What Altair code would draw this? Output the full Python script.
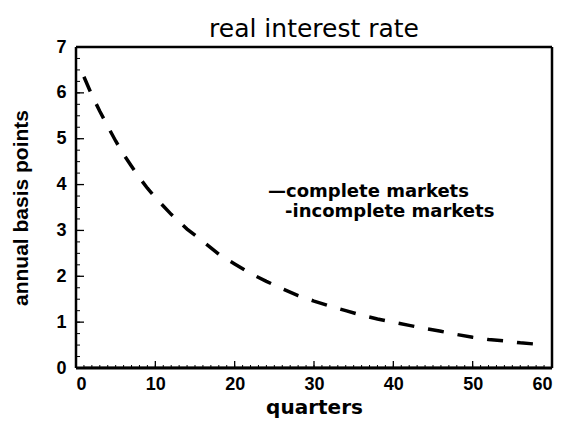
import altair as alt
import pandas as pd

quarters = [1, 2, 3, 4, 5, 6, 7, 8, 9, 10, 12, 14, 16, 18, 20, 22, 24, 26, 28, 30,
            32, 34, 36, 38, 40, 42, 44, 46, 48, 50, 52, 54, 56, 58, 59]
incomplete = [6.35, 5.95, 5.60, 5.27, 4.95, 4.66, 4.40, 4.15, 3.92, 3.72, 3.35, 3.03,
              2.76, 2.48, 2.27, 2.06, 1.89, 1.73, 1.58, 1.46, 1.35, 1.25, 1.15, 1.07,
              1.00, 0.93, 0.86, 0.80, 0.73, 0.67, 0.62, 0.59, 0.55, 0.52, 0.50]
complete = [0.0] * len(quarters)

x_major = [0, 10, 20, 30, 40, 50, 60]
x_minor = list(range(0, 61))
y_major = [0, 1, 2, 3, 4, 5, 6, 7]
y_minor = [i * 0.25 for i in range(0, 29)]

legend_lines = ["\u2014complete markets", "-incomplete markets"]

W, H = 476, 321
FONT = "Liberation Sans"
LFONT = "DejaVu Sans"

xs = alt.Scale(domain=[0, 60], nice=False, zero=False)
ys = alt.Scale(domain=[0, 7], nice=False)

df = pd.DataFrame({"q": quarters, "inc": incomplete, "comp": complete})

base = alt.Chart(df)

comp_line = base.mark_line(color="black", strokeWidth=2.5, clip=True).encode(
    x=alt.X("q:Q", scale=xs,
            axis=alt.Axis(values=x_major, title="quarters", grid=False, ticks=False,
                          domain=False, labelFont=FONT, labelFontSize=18,
                          labelFontWeight="bold", labelColor="black", labelPadding=7,
                          titleFont=LFONT, titleFontSize=20, titleFontWeight="bold",
                          titleColor="black", titlePadding=4)),
    y=alt.Y("comp:Q", scale=ys,
            axis=alt.Axis(values=y_major, title="annual basis points", grid=False,
                          ticks=False, domain=False, labelFont=FONT, labelFontSize=18,
                          labelFontWeight="bold", labelColor="black", labelPadding=10,
                          titleFont=FONT, titleFontSize=21, titleFontWeight="bold",
                          titleColor="black", titlePadding=24)),
)

inc_line = base.mark_line(color="black", strokeWidth=3.5, strokeDash=[16, 14],
                          strokeCap="butt").encode(
    x=alt.X("q:Q", scale=xs), y=alt.Y("inc:Q", scale=ys))

xminor_df = pd.DataFrame({"t": x_minor})
xmajor_df = pd.DataFrame({"t": x_major})
yminor_df = pd.DataFrame({"t": y_minor})
ymajor_df = pd.DataFrame({"t": y_major})

xminor = alt.Chart(xminor_df).mark_rule(color="black", strokeWidth=1).encode(
    x=alt.X("t:Q", scale=xs), y=alt.value(H), y2=alt.value(H - 3))
xmajor = alt.Chart(xmajor_df).mark_rule(color="black", strokeWidth=1.3).encode(
    x=alt.X("t:Q", scale=xs), y=alt.value(H), y2=alt.value(H - 7))
yminor = alt.Chart(yminor_df).mark_rule(color="black", strokeWidth=1).encode(
    y=alt.Y("t:Q", scale=ys), x=alt.value(0), x2=alt.value(4))
ymajor = alt.Chart(ymajor_df).mark_rule(color="black", strokeWidth=1.3).encode(
    y=alt.Y("t:Q", scale=ys), x=alt.value(0), x2=alt.value(8))

one = pd.DataFrame({"a": [0]})
frame_top = alt.Chart(one).mark_rule(color="black", strokeWidth=2.5).encode(
    x=alt.value(0), x2=alt.value(W), y=alt.value(0))
frame_bottom = alt.Chart(one).mark_rule(color="black", strokeWidth=3).encode(
    x=alt.value(0), x2=alt.value(W), y=alt.value(H))
frame_left = alt.Chart(one).mark_rule(color="black", strokeWidth=2.5).encode(
    y=alt.value(0), y2=alt.value(H), x=alt.value(0))
frame_right = alt.Chart(one).mark_rule(color="black", strokeWidth=2.5).encode(
    y=alt.value(0), y2=alt.value(H), x=alt.value(W))

leg_df = pd.DataFrame({"label": legend_lines, "i": [0, 1]})
leg1 = alt.Chart(leg_df).transform_filter("datum.i == 0").mark_text(
    align="left", baseline="alphabetic", font=LFONT, fontSize=18, fontWeight="bold",
    color="black").encode(text="label:N", x=alt.value(192), y=alt.value(150))
leg2 = alt.Chart(leg_df).transform_filter("datum.i == 1").mark_text(
    align="left", baseline="alphabetic", font=LFONT, fontSize=18, fontWeight="bold",
    color="black").encode(text="label:N", x=alt.value(209), y=alt.value(170))

chart = alt.layer(comp_line, inc_line, xminor, xmajor, yminor, ymajor,
                  frame_top, frame_bottom, frame_left, frame_right,
                  leg1, leg2).properties(
    width=W, height=H,
    title=alt.TitleParams("real interest rate", font=LFONT, fontSize=25,
                          fontWeight="normal", color="black", anchor="middle",
                          offset=0, dy=4),
    autosize=alt.AutoSizeParams(type="none"),
    padding={"left": 68, "top": 39, "right": 5, "bottom": 55},
).configure_view(stroke=None).configure(background="white")

chart.save("out.html", embed_options={"renderer": "svg", "actions": False})
